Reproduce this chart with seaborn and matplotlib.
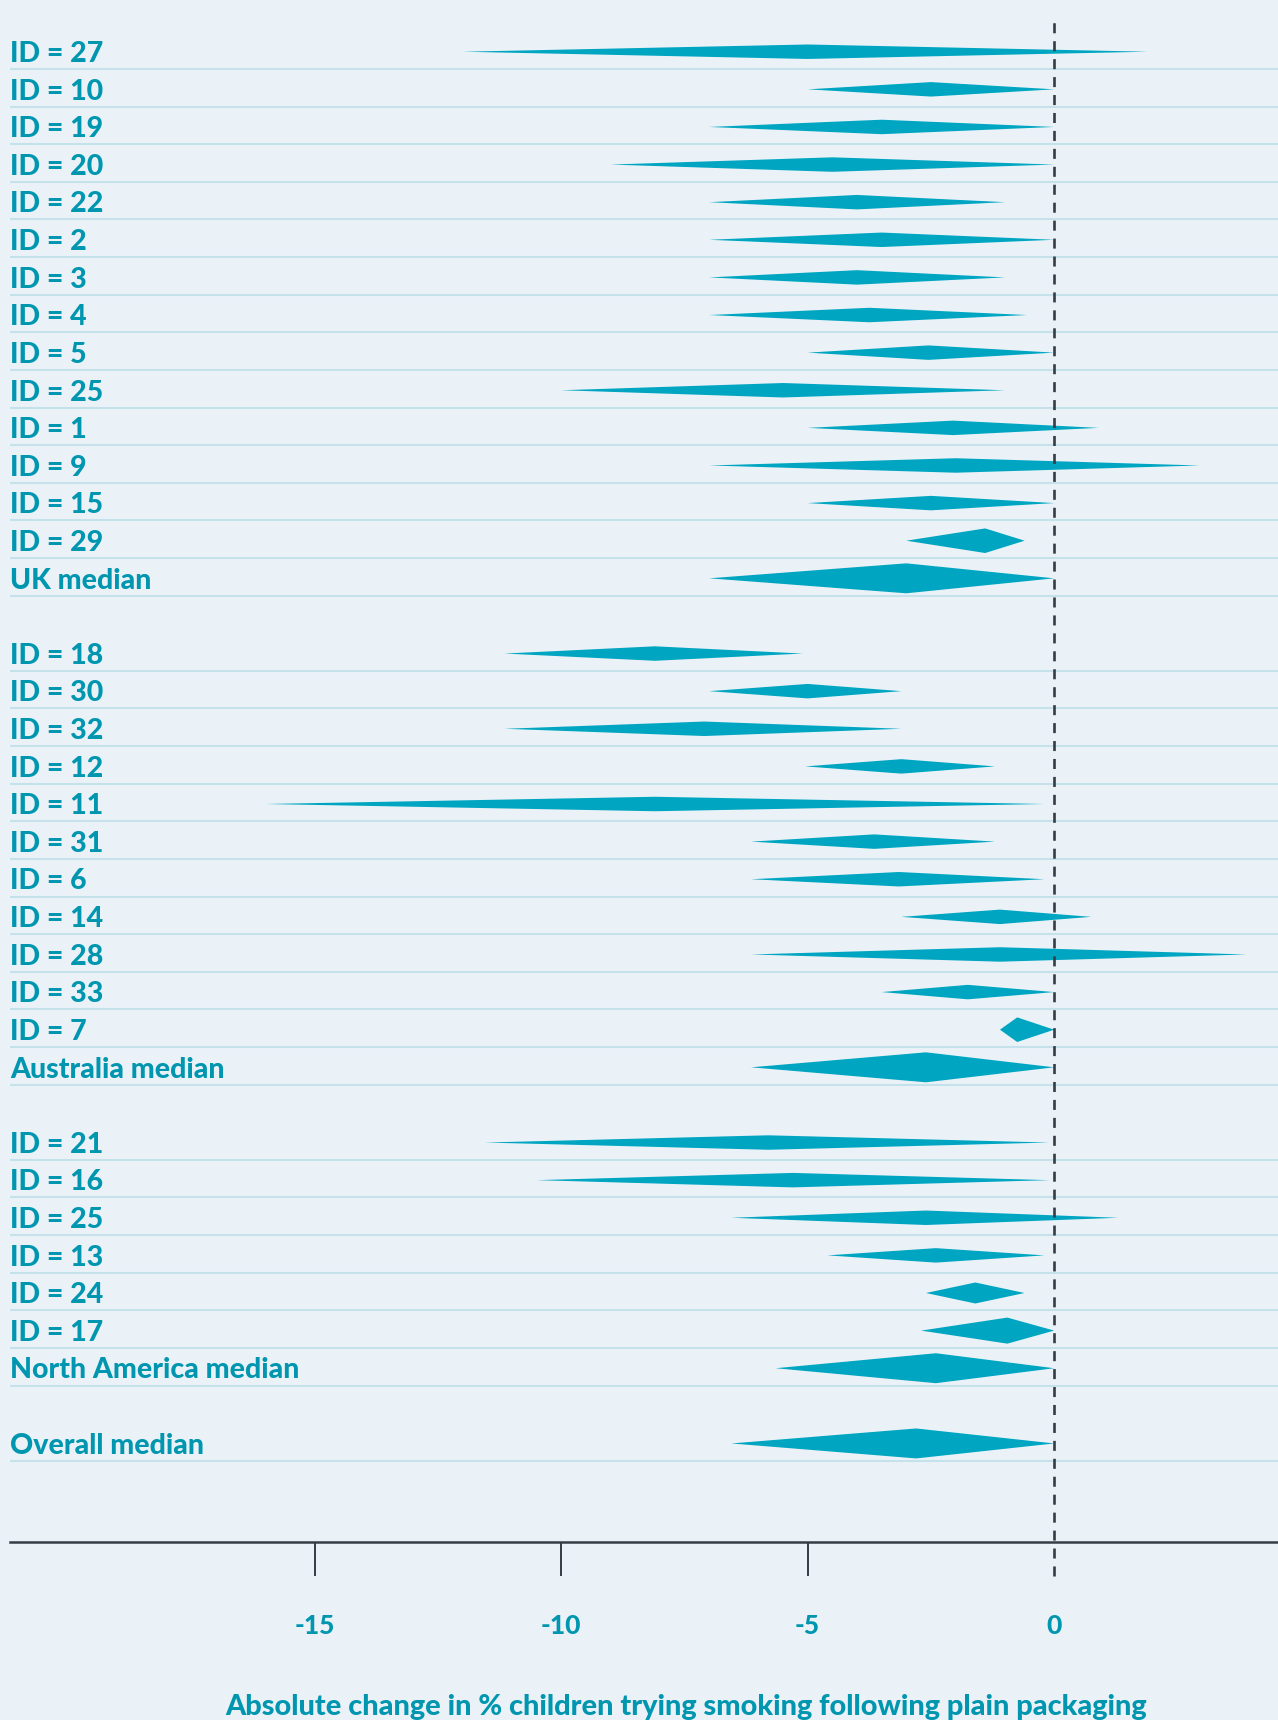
import matplotlib
matplotlib.use('Agg')
import matplotlib.pyplot as plt
import seaborn as sns

# study rows, top to bottom (regional medians close each block)
labels = ['ID = 27', 'ID = 10', 'ID = 19', 'ID = 20', 'ID = 22', 'ID = 2', 'ID = 3',
          'ID = 4', 'ID = 5', 'ID = 25', 'ID = 1', 'ID = 9', 'ID = 15', 'ID = 29',
          'UK median',
          'ID = 18', 'ID = 30', 'ID = 32', 'ID = 12', 'ID = 11', 'ID = 31', 'ID = 6',
          'ID = 14', 'ID = 28', 'ID = 33', 'ID = 7',
          'Australia median',
          'ID = 21', 'ID = 16', 'ID = 25', 'ID = 13', 'ID = 24', 'ID = 17',
          'North America median',
          'Overall median']

low = [-12.0, -5.0, -7.0, -9.0, -7.0, -7.0, -7.0, -7.0, -5.0, -10.0, -5.0, -7.0, -5.0, -3.0,
       -7.0,
       -11.15, -7.0, -11.15, -5.05, -16.0, -6.15, -6.15, -3.1, -6.15, -3.5, -1.1,
       -6.15,
       -11.55, -10.5, -6.55, -4.6, -2.6, -2.7,
       -5.65,
       -6.55]

median = [-5.0, -2.5, -3.5, -4.5, -4.0, -3.5, -4.0, -3.75, -2.55, -5.5, -2.05, -2.0, -2.5, -1.4,
          -3.0,
          -8.1, -5.0, -7.1, -3.1, -8.1, -3.65, -3.15, -1.1, -1.1, -1.75, -0.75,
          -2.6,
          -5.8, -5.3, -2.6, -2.4, -1.6, -0.95,
          -2.4,
          -2.8]

high = [1.9, 0.0, 0.0, 0.0, -1.0, 0.0, -1.0, -0.55, 0.0, -1.0, 0.9, 2.95, 0.0, -0.6,
        0.0,
        -5.1, -3.1, -3.1, -1.2, -0.2, -1.2, -0.2, 0.75, 3.9, 0.0, 0.0,
        0.0,
        -0.1, -0.1, 1.3, -0.2, -0.6, 0.0,
        0.0,
        0.0]

# relative diamond thickness
thickness = [1, 1, 1, 1, 1, 1, 1, 1, 1, 1, 1, 1, 1, 1.7,
             2.07,
             1, 1, 1, 1, 1, 1, 1, 1, 1, 1, 1.7,
             2.07,
             1, 1, 1, 1, 1.45, 1.8,
             2.07,
             2.07]

xticks = [-15, -10, -5, 0]
xlabel = 'Absolute change in % children trying smoking following plain packaging'

BG = '#eaf2f8'
TEAL = '#00a6c1'
TEXT = '#0096af'
RULE = '#c5e1ea'
DARK = '#363c45'

sns.set_theme(style='white', rc={'axes.facecolor': BG, 'figure.facecolor': BG})
plt.rcParams['font.family'] = ['Lato', 'DejaVu Sans']

fig = plt.figure(figsize=(12.78, 17.2), dpi=100)
ax = fig.add_axes([10 / 1278, 178 / 1720, 1268 / 1278, 1542 / 1720])

# row positions: leave an empty row after each median
pos = []
r = 0
for lab in labels:
    pos.append(r)
    r += 2 if lab.endswith('median') else 1

base_h = 0.385
for lab, y, lo, m, hi, t in zip(labels, pos, low, median, high, thickness):
    h = base_h * t
    ax.fill([lo, m, hi, m], [y, y - h / 2, y, y + h / 2], color=TEAL, lw=0, zorder=3)
    ax.axhline(y + 0.46, color=RULE, lw=1.5, zorder=1)
    ax.text(0, y + 0.06, lab, transform=ax.get_yaxis_transform(), ha='left', va='center',
            fontsize=20.5, fontweight='black', color=TEXT, zorder=4)

ax.axvline(0, ymin=-0.022, ymax=0.990, color=DARK, lw=1.9,
           ls=(0, (3.8, 3.0)), clip_on=False, zorder=5)

ax.set_xlim(-21.18, 4.54)
ax.set_ylim(39.62, -1.375)
ax.set_yticks([])
ax.set_xticks(xticks)
ax.set_xticklabels([str(v) for v in xticks])
ax.tick_params(axis='x', direction='out', length=24.5, width=1.4, color=DARK,
               pad=27, labelsize=19, labelcolor=TEXT, bottom=True)
for t in ax.get_xticklabels():
    t.set_fontweight('black')
ax.xaxis.get_major_ticks()[-1].tick1line.set_visible(False)

for s in ['left', 'top', 'right']:
    ax.spines[s].set_visible(False)
ax.spines['bottom'].set_color(DARK)
ax.spines['bottom'].set_linewidth(1.8)

fig.text(686 / 1278, 13 / 1720, xlabel, ha='center', va='center',
         fontsize=20.8, fontweight='black', color=TEXT)

fig.savefig('out.png', dpi=100, facecolor=BG)
